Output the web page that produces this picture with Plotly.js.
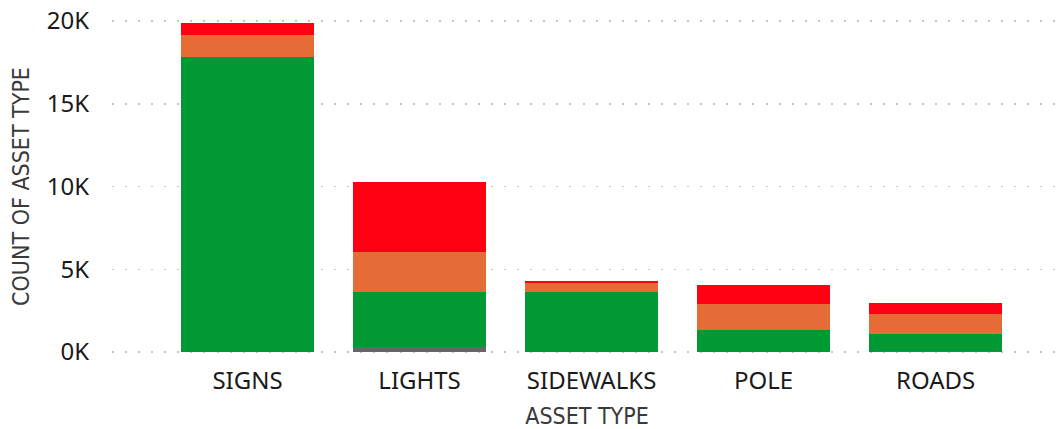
<!DOCTYPE html>
<html>
<head>
<meta charset="utf-8">
<script src="https://cdn.plot.ly/plotly-3.0.1.min.js"></script>
<style>html,body{margin:0;padding:0;background:#fff;}#chart{width:1062px;height:429px;}</style>
</head>
<body>
<div id="chart"></div>
<script>
const categories = ["SIGNS", "LIGHTS", "SIDEWALKS", "POLE", "ROADS"];
const grayValues   = [0, 300, 0, 0, 60];
const greenValues  = [17820, 3330, 3630, 1330, 1030];
const orangeValues = [1330, 2410, 540, 1570, 1210];
const redValues    = [750, 4230, 120, 1150, 660];
const tickVals = [0, 5000, 10000, 15000, 20000];
const tickText = ["0K", "5K", "10K", "15K", "20K"];

const series = [
  {name: "Gray", y: grayValues, color: "#666666"},
  {name: "Green", y: greenValues, color: "#009933"},
  {name: "Orange", y: orangeValues, color: "#E66C37"},
  {name: "Red", y: redValues, color: "#FF0013"}
];
const traces = series.map(s => ({
  type: "bar", x: categories, y: s.y, name: s.name,
  marker: {color: s.color, line: {width: 0}},
  hoverinfo: "x+y+name"
}));

const titleFont = {size: 23, color: "#3a3a3a", family: "Liberation Sans Narrow, DejaVu Sans Condensed, sans-serif"};
const tickFont = {size: 24, color: "#1a1a1a", family: "Noto Sans, Open Sans, sans-serif"};

const layout = {
  width: 1062, height: 429,
  margin: {l: 112, r: 0, t: 18, b: 74},
  barmode: "stack",
  bargap: 0.2267,
  showlegend: false,
  paper_bgcolor: "#ffffff",
  plot_bgcolor: "#ffffff",
  font: {family: "Noto Sans, Open Sans, sans-serif", color: "#252423"},
  xaxis: {
    range: [-0.788, 4.735],
    showgrid: false, zeroline: false, showline: false,
    ticks: "", ticklabelstandoff: 9,
    tickfont: tickFont,
    title: {text: "ASSET TYPE", font: titleFont, standoff: 14}
  },
  yaxis: {
    range: [-181, 20181],
    tickvals: tickVals, ticktext: tickText,
    showgrid: true, gridcolor: "#c4c4c4", griddash: "2px,11.07px", gridwidth: 1.5,
    zeroline: false, showline: false,
    ticks: "", ticklabelstandoff: 22,
    tickfont: tickFont,
    title: {text: "COUNT OF ASSET TYPE", font: titleFont, standoff: 10}
  }
};
Plotly.newPlot("chart", traces, layout, {displayModeBar: false, staticPlot: true});
</script>
</body>
</html>
